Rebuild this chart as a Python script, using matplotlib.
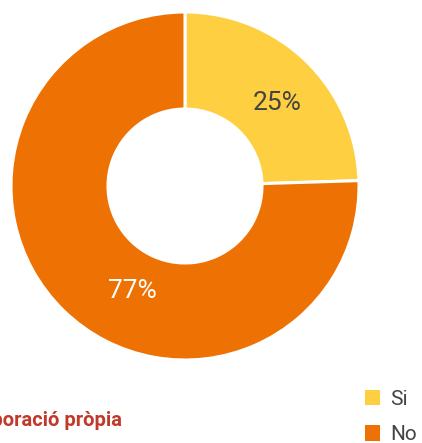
import matplotlib.pyplot as plt
from matplotlib.patches import Patch

labels = ['Si', 'No']
values = [25, 77]
pct_labels = ['25%', '77%']
colors = ['#FDCF41', '#EE7203']

plt.rcParams['font.family'] = ['Roboto', 'DejaVu Sans']

fig = plt.figure(figsize=(4.22, 4.43), dpi=100)
ax = fig.add_axes([0, 0, 1, 1])

# centre del donut a (185, 186) px, radi 174 px
r = 174
cx, cy = 185, 186

wedges, _ = ax.pie(values, colors=colors, startangle=90, counterclock=False,
                   radius=1, wedgeprops=dict(width=1 - 77 / r, edgecolor='white', linewidth=2.2))

ax.set_xlim(-cx / r, (422 - cx) / r)
ax.set_ylim((cy - 443) / r, cy / r)
ax.set_aspect('equal')
ax.axis('off')

ax.text((277 - cx) / r, (cy - 103) / r, pct_labels[0], ha='center', va='center',
        fontsize=19, color='#444444')
ax.text((132 - cx) / r, (cy - 291) / r, pct_labels[1], ha='center', va='center',
        fontsize=19, color='white')

# el text de la font queda tallat a l'esquerra, com a l'original
fig.text(122 / 422, 1 - 421 / 443, 'Font: elaboració pròpia', ha='right', va='center',
         fontsize=14.5, fontweight='bold', color='#C0392B')

handles = [Patch(facecolor=c, edgecolor='none') for c in colors]
fig.legend(handles, labels, loc='lower left', bbox_to_anchor=(346 / 422, -0.045),
           frameon=False, fontsize=15, handlelength=0.75, handleheight=0.75,
           handletextpad=0.45, labelspacing=0.8, labelcolor='#444444')

fig.savefig('out.png', dpi=100)
